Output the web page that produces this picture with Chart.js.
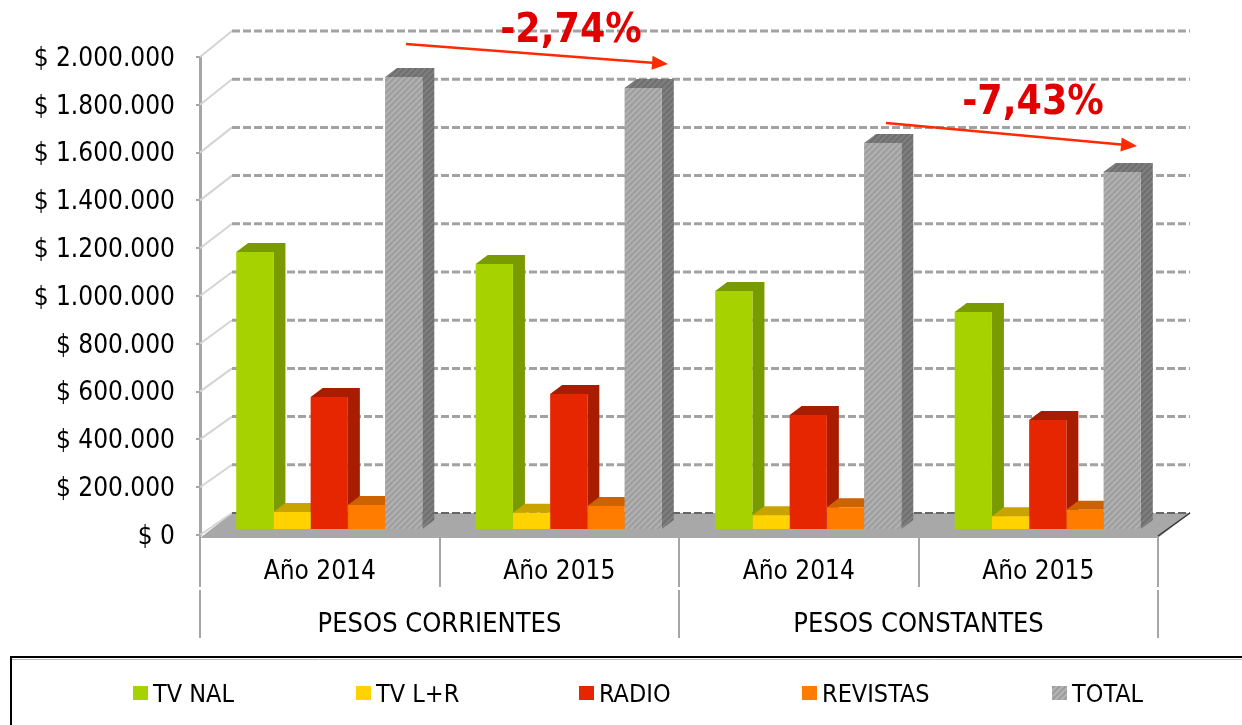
<!DOCTYPE html>
<html><head><meta charset="utf-8">
<style>html,body{margin:0;padding:0;background:#fff}#w{position:relative;width:1242px;height:725px;overflow:hidden}canvas{display:block}</style>
<script src="https://cdn.jsdelivr.net/npm/chart.js@4/dist/chart.umd.min.js"></script>
</head><body><div id="w"><canvas id="c" width="1242" height="725"></canvas></div>
<script>
const years = ["Año 2014","Año 2015","Año 2014","Año 2015"];
const groups = ["PESOS CORRIENTES","PESOS CONSTANTES"];
const tvNal = [1163000,1113000,1000000,912000];
const tvLR = [75000,72000,62000,58000];
const radio = [556000,569000,481000,460000];
const revistas = [105000,100000,95000,85000];
const total = [1895000,1849000,1619000,1498000];
const seriesNames = ["TV NAL","TV L+R","RADIO","REVISTAS","TOTAL"];
const tickFmt = v => "$ " + String(v).replace(/\B(?=(\d{3})+(?!\d))/g,".");
const FONT = '"DejaVu Sans Condensed","DejaVu Sans",sans-serif';
const legendX = [133,356,579,802,1052];

function hatch(base, line, light){
  const p=document.createElement("canvas");p.width=p.height=6;const g=p.getContext("2d");
  g.fillStyle=base;g.fillRect(0,0,6,6);
  g.lineWidth=1.2;
  [[line,0],[light,3]].forEach(([col,o])=>{g.strokeStyle=col;
    g.beginPath();
    for(let k=-6;k<=12;k+=6){g.moveTo(k+o,6);g.lineTo(k+o+6,0);}
    g.stroke();});
  return g.createPattern(p,"repeat");
}
const totalFront=hatch("#a8a8a8","#989898","#b8b8b8");
const totalSide=hatch("#777777","#6a6a6a","#858585");
const fronts=["#a6d300","#ffd200","#e62600","#ff7c00",totalFront];
const sides=["#7a9b00","#c9a400","#a81c00","#cc6300",totalSide];
const values=[tvNal,tvLR,radio,revistas,total];

const BAR_DX=9.5, BAR_DY=-5, DEPTH_X=12, DEPTH_Y=9, WALL_X=32, RIGHT_X=1190;
const wallOffset=(v,max)=>22+4*v/max;

const wall={id:"wall",
  beforeDatasetsDraw(ch){
    const c=ch.ctx,y=ch.scales.y,a=ch.chartArea;
    c.save();
    const fy=y.getPixelForValue(0), by=fy-wallOffset(0,y.max);
    c.fillStyle="#a8a8a8";c.beginPath();
    c.moveTo(a.left,fy+3);c.lineTo(a.left+WALL_X,by);c.lineTo(RIGHT_X,by);c.lineTo(a.right,fy+3);c.closePath();c.fill();
    y.ticks.forEach(t=>{
      const p=y.getPixelForValue(t.value), q=p-wallOffset(t.value,y.max);
      c.strokeStyle="#d4d4d4";c.lineWidth=2;c.setLineDash([]);
      c.beginPath();c.moveTo(a.left,p);c.lineTo(a.left+WALL_X,q);c.stroke();
      c.strokeStyle=t.value===0?"#666":"#a2a2a2";c.lineWidth=t.value===0?2:3;c.setLineDash([8,3]);
      c.beginPath();c.moveTo(a.left+WALL_X,q);c.lineTo(RIGHT_X,q);c.stroke();
    });
    c.setLineDash([]);c.strokeStyle="#333";c.lineWidth=1.5;
    c.beginPath();c.moveTo(RIGHT_X,by);c.lineTo(a.right,fy+1);c.stroke();
    // side and top faces of the bars, left to right, behind every front face
    c.translate(BAR_DX,BAR_DY);
    ch.data.datasets.forEach((d,i)=>{
      c.fillStyle=sides[i];
      ch.getDatasetMeta(i).data.forEach(b=>{
        const x0=b.x-b.width/2,x1=b.x+b.width/2,t=b.y,bt=b.base;
        c.beginPath();c.moveTo(x0,t);c.lineTo(x0+DEPTH_X,t-DEPTH_Y);c.lineTo(x1+DEPTH_X,t-DEPTH_Y);
        c.lineTo(x1+DEPTH_X,bt-DEPTH_Y);c.lineTo(x1,bt);c.lineTo(x1,t);c.closePath();c.fill();
      });
    });
    c.restore();
  },
  beforeDatasetDraw(ch){const c=ch.ctx;c.save();c.translate(BAR_DX,BAR_DY);},
  afterDatasetDraw(ch){ch.ctx.restore();},
  afterDraw(ch){
    const c=ch.ctx;c.save();
    // legend box
    c.strokeStyle="#000";c.lineWidth=2;c.strokeRect(11,657,1300,120);
    c.strokeStyle="#bbb";c.lineWidth=1;c.beginPath();c.moveTo(12,659.5);c.lineTo(1242,659.5);c.stroke();
    c.font="25px "+FONT;c.textBaseline="middle";c.textAlign="left";
    ch.data.datasets.forEach((d,i)=>{
      const x=legendX[i];
      c.fillStyle=d.backgroundColor;c.fillRect(x,686,15,14);
      c.fillStyle="#000";c.fillText(d.label,x+20,695);
    });
    // annotations
    const arrow=(x0,y0,x1,y1)=>{
      const an=Math.atan2(y1-y0,x1-x0),L=16,W=7;
      c.strokeStyle="#ff2a00";c.fillStyle="#ff2a00";c.lineWidth=2.5;
      c.beginPath();c.moveTo(x0,y0);c.lineTo(x1-L*Math.cos(an),y1-L*Math.sin(an));c.stroke();
      c.beginPath();c.moveTo(x1,y1);
      c.lineTo(x1-L*Math.cos(an)+W*Math.sin(an),y1-L*Math.sin(an)-W*Math.cos(an));
      c.lineTo(x1-L*Math.cos(an)-W*Math.sin(an),y1-L*Math.sin(an)+W*Math.cos(an));c.closePath();c.fill();
    };
    arrow(406,44,668,64);arrow(886,123,1137,146);
    c.fillStyle="#e00000";c.font='bold 40.5px '+FONT;c.textAlign="center";c.textBaseline="middle";
    c.fillText("-2,74%",571,31);c.fillText("-7,43%",1033,103);
    c.restore();
  }
};

new Chart(document.getElementById("c"),{
  type:"bar",
  data:{labels:years,datasets:seriesNames.map((n,i)=>({
    label:n,data:values[i],backgroundColor:fronts[i],borderWidth:0,
    categoryPercentage:0.777,barPercentage:1,clip:false,xAxisID:"x",yAxisID:"y"}))},
  options:{
    responsive:false,animation:false,
    layout:{padding:{top:57,right:84,bottom:87,left:0}},
    plugins:{legend:{display:false},tooltip:{enabled:false},title:{display:false}},
    scales:{
      y:{min:0,max:2000000,
        ticks:{stepSize:200000,callback:tickFmt,font:{size:26,family:FONT},color:"#000",padding:21,labelOffset:2},
        grid:{drawOnChartArea:false,tickLength:4,color:"#a6a6a6",lineWidth:2},
        border:{color:"#a6a6a6",width:3},
        afterFit(s){s.width=200;}},
      x:{type:"category",position:"bottom",
        ticks:{font:{size:26,family:FONT},color:"#000",padding:-30,autoSkip:false,maxRotation:0},
        grid:{drawOnChartArea:false,tickLength:52,color:"#a6a6a6",lineWidth:2},
        border:{display:false},
        afterFit(s){s.height=55;}},
      x2:{type:"category",position:"bottom",labels:groups,
        ticks:{font:{size:27,family:FONT},color:"#000",padding:-29,autoSkip:false,maxRotation:0},
        grid:{drawOnChartArea:false,tickLength:48,color:"#a6a6a6",lineWidth:2},
        border:{display:false},
        afterFit(s){s.height=48;}}
    }
  },
  plugins:[wall]
});
</script></body></html>
